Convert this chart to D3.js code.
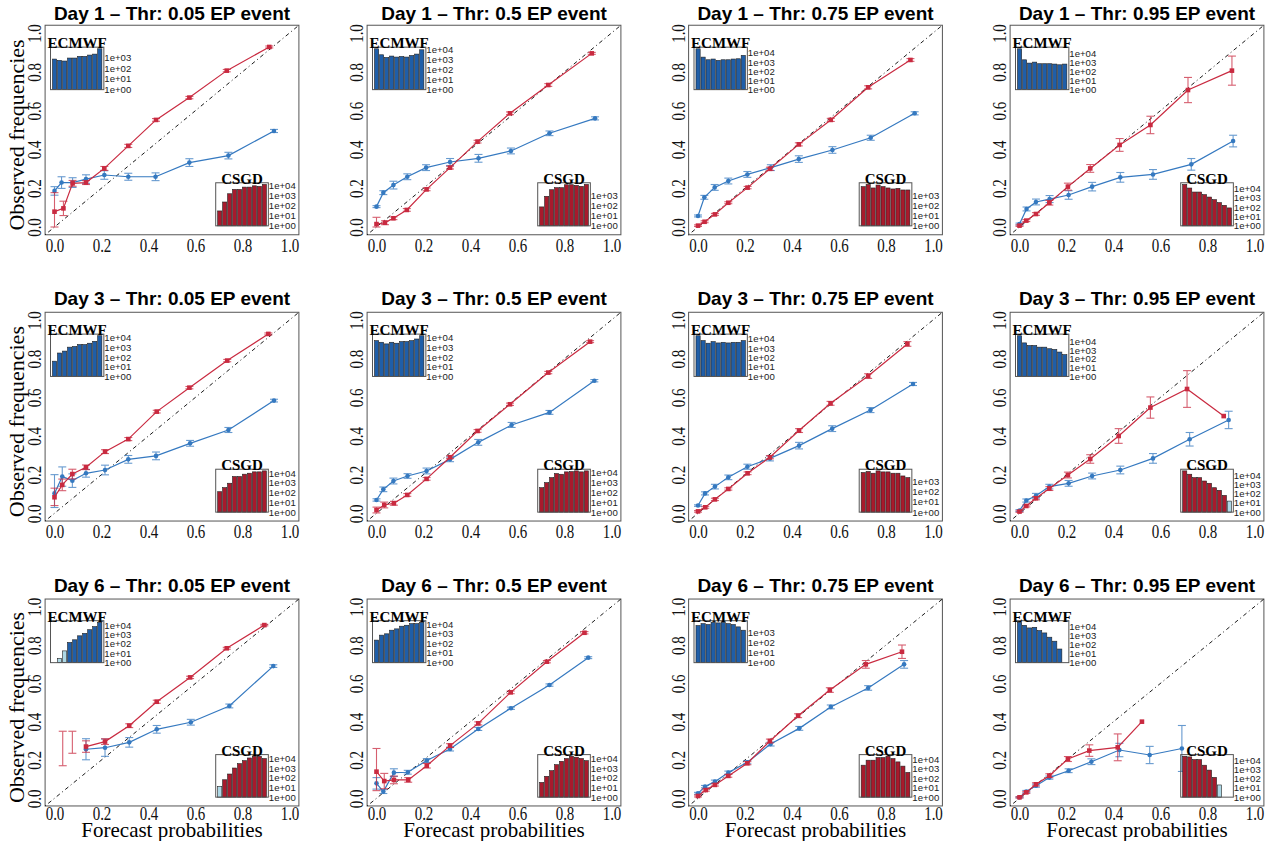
<!DOCTYPE html>
<html><head><meta charset="utf-8">
<script src="https://cdn.jsdelivr.net/npm/d3@7"></script>
<style>body{margin:0;background:#fff} svg{display:block}</style>
</head><body>
<svg id="chart" width="1277" height="841"></svg>
<script>
// ---------------- data ----------------
const days = ["Day 1", "Day 3", "Day 6"];
const thresholds = ["0.05", "0.5", "0.75", "0.95"];
const axisTicks = [0, 0.2, 0.4, 0.6, 0.8, 1.0];
const seriesNames = ["ECMWF", "CSGD"];

// panels ordered row by row: Day1 (0.05,0.5,0.75,0.95), Day3 (...), Day6 (...)
const ecmwfX = [
  [0.0, 0.03, 0.077, 0.134, 0.212, 0.314, 0.43, 0.574, 0.74, 0.934],
  [0.0, 0.029, 0.072, 0.131, 0.211, 0.313, 0.434, 0.572, 0.736, 0.93],
  [0.0, 0.027, 0.071, 0.129, 0.21, 0.31, 0.429, 0.572, 0.735, 0.922],
  [0.0, 0.03, 0.07, 0.128, 0.209, 0.309, 0.429, 0.568, 0.731, 0.909],
  [0.0, 0.033, 0.076, 0.134, 0.215, 0.314, 0.432, 0.577, 0.74, 0.934],
  [0.0, 0.029, 0.072, 0.132, 0.213, 0.313, 0.433, 0.575, 0.736, 0.927],
  [0.0, 0.03, 0.072, 0.129, 0.21, 0.306, 0.43, 0.571, 0.734, 0.915],
  [0.0, 0.029, 0.07, 0.127, 0.209, 0.309, 0.429, 0.568, 0.724, 0.89],
  [0.0, 0.035, 0.075, 0.134, 0.215, 0.318, 0.435, 0.58, 0.744, 0.931],
  [0.0, 0.029, 0.074, 0.133, 0.214, 0.313, 0.433, 0.572, 0.736, 0.901],
  [0.0, 0.03, 0.072, 0.129, 0.21, 0.309, 0.431, 0.565, 0.724, 0.877],
  [0.0, 0.029, 0.07, 0.127, 0.209, 0.306, 0.425, 0.554, 0.691, null]
];
const ecmwfY = [
  [0.186, 0.229, 0.229, 0.247, 0.268, 0.259, 0.259, 0.332, 0.368, 0.495],
  [0.105, 0.177, 0.216, 0.259, 0.306, 0.335, 0.354, 0.392, 0.483, 0.56],
  [0.057, 0.153, 0.204, 0.237, 0.271, 0.306, 0.35, 0.397, 0.46, 0.586],
  [0.015, 0.093, 0.129, 0.144, 0.165, 0.208, 0.256, 0.271, 0.323, 0.443],
  [0.103, 0.19, 0.169, 0.207, 0.224, 0.279, 0.297, 0.362, 0.431, 0.583],
  [0.069, 0.124, 0.167, 0.193, 0.219, 0.279, 0.367, 0.457, 0.522, 0.686],
  [0.04, 0.103, 0.138, 0.186, 0.241, 0.284, 0.35, 0.438, 0.534, 0.669],
  [0.014, 0.066, 0.091, 0.138, 0.155, 0.193, 0.224, 0.284, 0.383, 0.483],
  [null, null, null, 0.256, 0.264, 0.292, 0.36, 0.397, 0.482, 0.69],
  [0.078, 0.035, 0.134, 0.136, 0.197, 0.257, 0.362, 0.47, 0.591, 0.734],
  [0.026, 0.061, 0.087, 0.134, 0.188, 0.283, 0.365, 0.477, 0.576, 0.699],
  [0.005, 0.035, 0.066, 0.108, 0.144, 0.191, 0.252, 0.226, 0.26, null]
];
// error bars: half-width, or [low, high]
const ecmwfErr = [
  [0.022, 0.03, 0.025, 0.022, 0.022, 0.018, 0.02, 0.02, 0.017, 0.008],
  [0.005, 0.01, 0.02, 0.015, 0.015, 0.018, 0.02, 0.015, 0.012, 0.008],
  [0.005, 0.01, 0.015, 0.015, 0.015, 0.015, 0.017, 0.017, 0.013, 0.008],
  [0.005, 0.01, 0.015, 0.018, 0.022, 0.022, 0.025, 0.025, 0.03, 0.03],
  [[0.03, 0.2], 0.05, 0.035, 0.02, 0.025, 0.02, 0.02, 0.015, 0.013, 0.007],
  [0.006, 0.012, 0.015, 0.012, 0.015, 0.012, 0.015, 0.013, 0.01, 0.006],
  [0.004, 0.008, 0.012, 0.012, 0.013, 0.013, 0.017, 0.015, 0.013, 0.008],
  [0.005, 0.008, 0.012, 0.012, 0.015, 0.015, 0.02, 0.025, 0.035, 0.045],
  [null, null, null, 0.055, 0.045, 0.025, 0.02, 0.015, 0.01, 0.007],
  [0.03, 0.01, 0.02, 0.01, 0.01, 0.01, 0.008, 0.006, 0.006, 0.005],
  [0.005, 0.006, 0.008, 0.008, 0.008, 0.01, 0.01, 0.01, 0.012, 0.02],
  [0.003, 0.006, 0.008, 0.008, 0.01, 0.015, 0.035, 0.045, [0.14, 0.38], null]
];
const csgdX = [
  [0.0, 0.038, 0.077, 0.134, 0.212, 0.314, 0.432, 0.574, 0.733, 0.914],
  [0.0, 0.036, 0.072, 0.129, 0.213, 0.313, 0.43, 0.568, 0.731, 0.916],
  [0.0, 0.028, 0.072, 0.129, 0.211, 0.306, 0.429, 0.565, 0.724, 0.904],
  [0.0, 0.029, 0.07, 0.127, 0.206, 0.301, 0.426, 0.557, 0.717, 0.904],
  [0.0, 0.033, 0.076, 0.134, 0.215, 0.314, 0.435, 0.574, 0.735, 0.91],
  [0.0, 0.033, 0.074, 0.131, 0.213, 0.313, 0.43, 0.568, 0.731, 0.909],
  [0.0, 0.031, 0.072, 0.129, 0.211, 0.306, 0.43, 0.564, 0.724, 0.891],
  [0.0, 0.029, 0.07, 0.127, 0.206, 0.301, 0.422, 0.557, 0.713, 0.869],
  [0.0, 0.035, 0.076, 0.134, 0.215, 0.318, 0.435, 0.577, 0.733, 0.893],
  [0.0, 0.033, 0.074, 0.135, 0.214, 0.313, 0.433, 0.571, 0.725, 0.885],
  [0.0, 0.033, 0.072, 0.129, 0.21, 0.306, 0.426, 0.561, 0.714, 0.868],
  [0.0, 0.029, 0.07, 0.127, 0.206, 0.297, 0.418, 0.521, null, null]
];
const csgdY = [
  [0.079, 0.096, 0.225, 0.229, 0.302, 0.418, 0.552, 0.667, 0.806, 0.928],
  [0.015, 0.022, 0.045, 0.088, 0.194, 0.306, 0.44, 0.586, 0.732, 0.895],
  [0.007, 0.027, 0.065, 0.125, 0.203, 0.3, 0.426, 0.552, 0.72, 0.861],
  [0.007, 0.033, 0.067, 0.125, 0.208, 0.302, 0.423, 0.526, 0.706, 0.806],
  [0.083, 0.147, 0.203, 0.238, 0.319, 0.384, 0.526, 0.65, 0.79, 0.928],
  [0.017, 0.043, 0.052, 0.095, 0.178, 0.29, 0.426, 0.564, 0.728, 0.888],
  [0.01, 0.031, 0.072, 0.126, 0.207, 0.29, 0.428, 0.569, 0.71, 0.876],
  [0.009, 0.038, 0.078, 0.128, 0.198, 0.281, 0.4, 0.547, 0.643, 0.503],
  [null, null, null, 0.27, 0.296, 0.379, 0.504, 0.631, 0.783, 0.904],
  [0.139, 0.09, 0.096, 0.096, 0.17, 0.275, 0.391, 0.553, 0.713, 0.864],
  [0.012, 0.043, 0.07, 0.117, 0.183, 0.299, 0.431, 0.565, 0.699, 0.765],
  [0.005, 0.031, 0.073, 0.118, 0.205, 0.249, 0.266, 0.4, null, null]
];
const csgdErr = [
  [[0.0, 0.177], 0.037, 0.015, 0.01, 0.01, 0.008, 0.007, 0.006, 0.006, 0.005],
  [[0.0, 0.05], 0.01, 0.007, 0.007, 0.007, 0.007, 0.007, 0.007, 0.007, 0.005],
  [0.004, 0.005, 0.005, 0.005, 0.006, 0.008, 0.008, 0.008, 0.008, 0.007],
  [0.004, 0.005, 0.007, 0.012, 0.018, 0.02, 0.033, 0.045, 0.065, 0.075],
  [[0.04, 0.13], 0.03, 0.025, 0.012, 0.01, 0.008, 0.007, 0.006, 0.006, 0.005],
  [0.015, 0.015, 0.01, 0.007, 0.007, 0.007, 0.007, 0.006, 0.006, 0.005],
  [0.004, 0.005, 0.006, 0.006, 0.007, 0.008, 0.01, 0.01, 0.012, 0.012],
  [0.004, 0.005, 0.008, 0.01, 0.015, 0.022, 0.038, 0.055, 0.095, 0],
  [null, [0.17, 0.35], [0.235, 0.35], 0.03, 0.015, 0.01, 0.008, 0.006, 0.005, 0.004],
  [[0.04, 0.26], [0.05, 0.13], 0.02, 0.012, 0.012, 0.01, 0.008, 0.007, 0.006, 0.006],
  [0.005, 0.006, 0.006, 0.007, 0.008, 0.01, 0.01, 0.012, 0.02, 0.035],
  [0.003, 0.005, 0.008, 0.01, 0.013, 0.03, 0.07, 0, null, null]
];
// sharpness histograms: log10(number of forecasts) per probability bin
const ecmwfHistLog10 = [
  [2.875, 2.75, 2.69, 2.97, 2.97, 3.125, 3.125, 3.25, 3.34, 3.84],
  [4.1, 3.5, 3.23, 3.37, 3.27, 3.33, 3.27, 3.43, 3.57, 4.0],
  [4.47, 3.56, 3.27, 3.35, 3.2, 3.27, 3.27, 3.35, 3.38, 3.75],
  [4.6, 3.36, 2.99, 3.1, 2.92, 2.92, 2.92, 2.88, 2.8, 2.88],
  [1.59, 2.44, 2.64, 3.05, 3.12, 3.32, 3.32, 3.46, 3.66, 4.24],
  [3.73, 3.56, 3.39, 3.56, 3.46, 3.63, 3.63, 3.73, 3.9, 4.24],
  [4.35, 3.83, 3.55, 3.72, 3.58, 3.65, 3.58, 3.65, 3.65, 3.83],
  [4.67, 3.85, 3.55, 3.55, 3.36, 3.36, 3.18, 3.1, 2.8, 2.5],
  [null, 0.47, 1.27, 2.18, 2.47, 2.9, 3.16, 3.56, 3.89, 4.36],
  [2.37, 2.89, 3.03, 3.41, 3.55, 3.83, 3.93, 4.1, 4.1, 4.24],
  [3.65, 3.84, 3.75, 3.97, 3.91, 3.97, 3.84, 3.75, 3.52, 3.19],
  [4.44, 4.11, 3.82, 3.89, 3.53, 3.27, 2.8, 2.36, 1.5, null]
];
const csgdHistLog10 = [
  [1.5, 2.4, 3.23, 3.67, 3.67, 3.9, 3.9, 4.03, 3.97, 4.17],
  [1.86, 2.9, 3.55, 3.75, 3.75, 4.04, 4.04, 3.97, 3.88, 4.07],
  [3.88, 4.1, 3.75, 4.04, 3.88, 3.75, 3.65, 3.71, 3.55, 3.55],
  [4.46, 4.07, 3.64, 3.64, 3.36, 3.1, 2.82, 2.5, 2.21, 1.93],
  [2.1, 2.52, 2.97, 3.66, 3.66, 3.9, 4.0, 4.14, 4.14, 4.24],
  [2.47, 2.98, 3.49, 3.9, 3.83, 4.07, 4.1, 4.17, 4.07, 4.17],
  [3.9, 4.0, 3.83, 4.06, 3.96, 3.96, 3.83, 3.83, 3.56, 3.4],
  [4.56, 4.19, 3.81, 3.81, 3.44, 3.19, 2.7, 2.41, 1.85, 1.22],
  [1.12, 1.82, 2.42, 3.05, 3.51, 3.82, 4.1, 4.28, 4.28, 4.04],
  [1.54, 2.18, 2.77, 3.4, 3.75, 4.04, 4.28, 4.18, 4.04, 3.82],
  [3.4, 3.93, 3.93, 4.21, 4.21, 4.35, 4.1, 3.75, 3.3, 2.63],
  [4.43, 4.36, 4.07, 4.07, 3.46, 2.93, 2.14, 1.32, null, null]
];
// highest decade label shown on each inset axis (1e+00 ... 1e+0k)
const ecmwfHistTopLabel = [3, 4, 4, 4, 4, 4, 4, 4, 4, 4, 3, 4];
const csgdHistTopLabel  = [4, 3, 3, 4, 4, 4, 3, 4, 4, 4, 4, 4];
const fewCasesLog10 = 1.4; // bins with few cases drawn light blue

// ---------------- layout / style ----------------
const colX0 = [54.5, 376.5, 698, 1019.5];
const unitX = 235;
const rowY0 = [227, 513.3, 798.3];
const rowY1 = [33, 320, 606.7];
const titleY = [20, 305, 592];
const blue = "#3579c0", red = "#c92a40";
const barBlue = "#1f5ea8", barRed = "#a81a2c", barLight = "#add8e6";

const svg = d3.select("#chart");

function errRange(v, e) {
  if (e == null) return null;
  if (Array.isArray(e)) return e;
  if (v == null) return null;
  return [Math.max(0, v - e), v + e];
}

for (let r = 0; r < 3; r++) {
  for (let c = 0; c < 4; c++) {
    const p = r * 4 + c;
    const x = d3.scaleLinear().domain([0, 1]).range([colX0[c], colX0[c] + unitX]);
    const y = d3.scaleLinear().domain([0, 1]).range([rowY0[r], rowY1[r]]);
    const g = svg.append("g");
    const bx0 = x(-0.04), bx1 = x(1.04), byT = y(1.04), byB = y(-0.04);

    // title
    g.append("text").attr("x", (bx0 + bx1) / 2).attr("y", titleY[r])
      .attr("text-anchor", "middle").attr("font-family", "Liberation Sans, Arial, sans-serif")
      .attr("font-weight", "bold").attr("font-size", 19).attr("fill", "#000")
      .text(`${days[r]} \u2013 Thr: ${thresholds[c]} EP event`);

    // box
    g.append("rect").attr("x", bx0).attr("y", byT).attr("width", bx1 - bx0).attr("height", byB - byT)
      .attr("fill", "none").attr("stroke", "#555").attr("stroke-width", 1);

    // axes (labels only)
    const xa = g.append("g").attr("transform", `translate(0,${byB + (r === 2 ? 14 : 17)})`)
      .call(d3.axisBottom(x).tickValues(axisTicks).tickFormat(d3.format(".1f")).tickSize(0));
    xa.select(".domain").remove();
    xa.selectAll("text").attr("y", 0).attr("dy", null)
      .attr("font-family", "Liberation Serif, Times New Roman, serif").attr("font-size", 15)
      .attr("fill", "#111").attr("transform", r === 2 ? "scale(1,1.2)" : "scale(1,1.3)");
    const ya = g.append("g").attr("transform", `translate(${bx0 - 4},0)`)
      .call(d3.axisLeft(y).tickValues(axisTicks).tickFormat(d3.format(".1f")).tickSize(0));
    ya.select(".domain").remove();
    ya.selectAll("text").attr("x", 0).attr("dy", null).attr("text-anchor", "middle")
      .attr("font-family", "Liberation Serif, Times New Roman, serif").attr("font-size", 15)
      .attr("fill", "#111").attr("transform", "rotate(-90) scale(1,1.3)");

    // diagonal
    g.append("line").attr("x1", x(-0.04)).attr("y1", y(-0.04)).attr("x2", x(1.04)).attr("y2", y(1.04))
      .attr("stroke", "#000").attr("stroke-width", 0.9).attr("stroke-dasharray", "1,3,4,3");

    // series
    const series = [
      {xs: ecmwfX[p], ys: ecmwfY[p], es: ecmwfErr[p], color: blue, shape: "circle"},
      {xs: csgdX[p], ys: csgdY[p], es: csgdErr[p], color: red, shape: "square"}
    ];
    series.forEach(s => {
      const pts = s.xs.map((xv, i) => ({x: xv, y: s.ys[i], e: errRange(s.ys[i], s.es[i])}));
      const line = d3.line().defined(d => d.x != null && d.y != null).x(d => x(d.x)).y(d => y(d.y));
      g.append("path").attr("d", line(pts)).attr("fill", "none")
        .attr("stroke", s.color).attr("stroke-width", 1.2);
      const eb = pts.filter(d => d.x != null && d.e != null && d.e[1] > d.e[0]);
      const ebg = g.append("g").attr("stroke", s.color).attr("stroke-width", 1.1).attr("opacity", 0.75);
      eb.forEach(d => {
        const cx = x(d.x), y0 = y(d.e[0]), y1 = y(d.e[1]);
        ebg.append("line").attr("x1", cx).attr("x2", cx).attr("y1", y0).attr("y2", y1);
        ebg.append("line").attr("x1", cx - 4).attr("x2", cx + 4).attr("y1", y0).attr("y2", y0);
        ebg.append("line").attr("x1", cx - 4).attr("x2", cx + 4).attr("y1", y1).attr("y2", y1);
      });
      const vis = pts.filter(d => d.x != null && d.y != null);
      if (s.shape === "circle") {
        g.selectAll(null).data(vis).enter().append("circle")
          .attr("cx", d => x(d.x)).attr("cy", d => y(d.y)).attr("r", 2.3).attr("fill", s.color);
      } else {
        g.selectAll(null).data(vis).enter().append("rect")
          .attr("x", d => x(d.x) - 2.3).attr("y", d => y(d.y) - 2.3)
          .attr("width", 4.6).attr("height", 4.6).attr("fill", s.color);
      }
    });

    // insets
    const insets = [
      {name: seriesNames[0], vals: ecmwfHistLog10[p], top: ecmwfHistTopLabel[p], fill: barBlue,
       x0: -0.017, x1: 0.21, y0: 0.708, y1: 0.927},
      {name: seriesNames[1], vals: csgdHistLog10[p], top: csgdHistTopLabel[p], fill: barRed,
       x0: 0.686, x1: 0.91, y0: 0.006, y1: 0.228}
    ];
    insets.forEach(ins => {
      const ix0 = x(ins.x0), ix1 = x(ins.x1), iyT = y(ins.y1), iyB = y(ins.y0);
      const xb = d3.scaleBand().domain(d3.range(ins.vals.length)).range([ix0, ix1])
        .paddingInner(0.2 / 1.2).paddingOuter(0.472 / 1.2);
      const maxV = d3.max(ins.vals);
      const yb = d3.scaleLinear().domain([0, maxV * 1.04]).range([iyB, iyT]);
      const ig = g.append("g");
      ig.selectAll(null).data(ins.vals.map((v, i) => ({v, i})).filter(d => d.v != null))
        .enter().append("rect")
        .attr("x", d => xb(d.i)).attr("width", xb.bandwidth())
        .attr("y", d => yb(d.v)).attr("height", d => yb(0) - yb(d.v))
        .attr("fill", d => d.v < fewCasesLog10 ? barLight : ins.fill)
        .attr("stroke", "#222").attr("stroke-width", 0.6);
      ig.append("rect").attr("x", ix0).attr("y", iyT).attr("width", ix1 - ix0).attr("height", iyB - iyT)
        .attr("fill", "none").attr("stroke", "#555").attr("stroke-width", 1);
      const labs = d3.range(0, ins.top + 1);
      ig.selectAll(null).data(labs).enter().append("text")
        .attr("x", ix1 + 0.5).attr("y", d => yb(d)).attr("dy", "0.35em")
        .attr("font-family", "Liberation Sans, Arial, sans-serif").attr("font-size", 9.6)
        .attr("fill", "#222").text(d => "1e+0" + d);
      ig.append("text").attr("x", (ix0 + ix1) / 2).attr("y", iyT + 1)
        .attr("text-anchor", "middle").attr("font-family", "Liberation Serif, Times New Roman, serif")
        .attr("font-weight", "bold").attr("font-size", 15).attr("fill", "#000").text(ins.name);
    });

    // axis titles
    if (c === 0) {
      const cy = (rowY0[r] + rowY1[r]) / 2 + 5;
      g.append("text").attr("transform", `translate(24,${cy}) rotate(-90)`)
        .attr("text-anchor", "middle").attr("font-family", "Liberation Serif, Times New Roman, serif")
        .attr("font-size", 22).attr("fill", "#000").text("Observed frequencies");
    }
    if (r === 2) {
      g.append("text").attr("x", (bx0 + bx1) / 2).attr("y", 837)
        .attr("text-anchor", "middle").attr("font-family", "Liberation Serif, Times New Roman, serif")
        .attr("font-size", 21).attr("fill", "#000").text("Forecast probabilities");
    }
  }
}
</script>
</body></html>
